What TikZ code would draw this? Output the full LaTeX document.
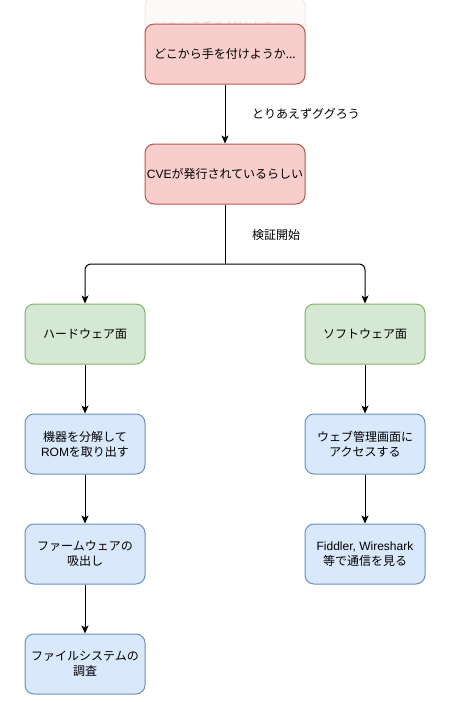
\documentclass[tikz,border=0pt]{standalone}
\usepackage{fontspec}
\setmainfont{Noto Sans CJK JP}
\newfontfamily\lat{Liberation Sans}
\usetikzlibrary{arrows.meta}
\definecolor{redf}{HTML}{F8CECC}
\definecolor{redd}{HTML}{B85450}
\definecolor{grnf}{HTML}{D5E8D4}
\definecolor{grnd}{HTML}{82B366}
\definecolor{bluf}{HTML}{DAE8FC}
\definecolor{blud}{HTML}{6C8EBF}
\begin{document}
\begin{tikzpicture}[x=1pt,y=-1pt,
  box/.style={rectangle, rounded corners=9pt, minimum width=120pt, minimum height=60pt,
    line width=1pt, align=center, inner sep=0pt, font=\fontsize{12}{15}\selectfont},
  redbox/.style={box, fill=redf, draw=redd, minimum width=160pt},
  grnbox/.style={box, fill=grnf, draw=grnd},
  blubox/.style={box, fill=bluf, draw=blud},
  arr/.style={line width=1pt, -{Stealth[length=8pt,width=7pt,inset=2pt]}},
  lbl/.style={anchor=west, inner sep=0pt, font=\fontsize{12}{15}\selectfont}]
\useasboundingbox (0,0) rectangle (450,702);
\node[redbox, opacity=0.12] (ghost) at (225,27) {どこから手を付けようか...};
\node[redbox] (n1) at (225,54) {どこから手を付けようか...};
\node[redbox] (n2) at (225,174) {{\lat CVE}が発行されているらしい};
\node[grnbox] (hw) at (85,334) {ハードウェア面};
\node[grnbox] (sw) at (365,334) {ソフトウェア面};
\node[blubox] (h1) at (85,444) {機器を分解して\\{\lat ROM}を取り出す};
\node[blubox] (h2) at (85,554) {ファームウェアの\\吸出し};
\node[blubox] (h3) at (85,664) {ファイルシステムの\\調査};
\node[blubox] (s1) at (365,444) {ウェブ管理画面に\\アクセスする};
\node[blubox] (s2) at (365,554) {{\lat Fiddler, Wireshark}\\等で通信を見る};
\coordinate (j) at (225,264);
\draw[arr] (n1) -- (n2);
\node[lbl] (l1) at (252,114) {とりあえずググろう};
\draw[line width=1pt] (n2) -- (j);
\draw[arr, rounded corners=6pt] (j) -| (hw);
\draw[arr, rounded corners=6pt] (j) -| (sw);
\node[lbl] (l2) at (252,235) {検証開始};
\draw[arr] (hw) -- (h1);
\draw[arr] (h1) -- (h2);
\draw[arr] (h2) -- (h3);
\draw[arr] (sw) -- (s1);
\draw[arr] (s1) -- (s2);
\end{tikzpicture}
\end{document}
